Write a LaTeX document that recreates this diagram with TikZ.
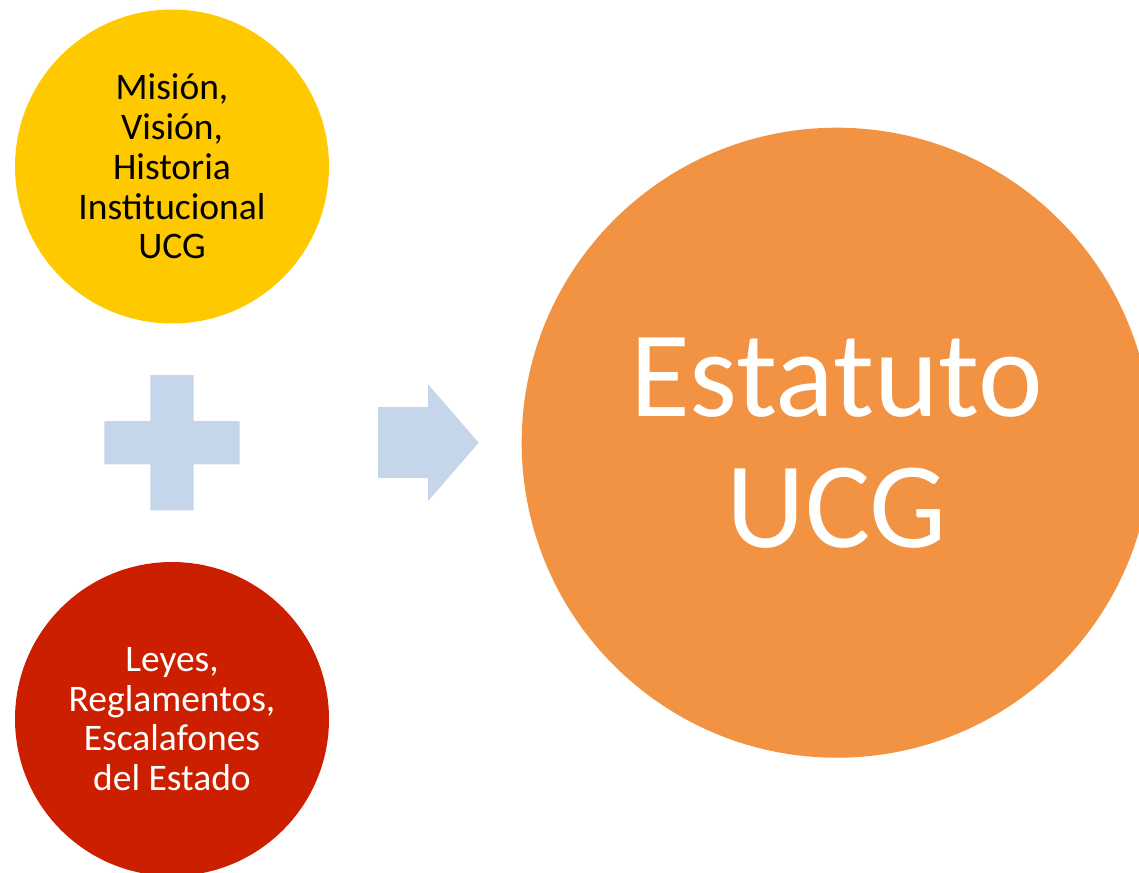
\documentclass[tikz,border=0pt]{standalone}
\usepackage{fontspec}
\setmainfont{Carlito}
\usepackage{tikz}
\usetikzlibrary{shapes.geometric, positioning, calc}
\definecolor{amarillo}{HTML}{FFC900}
\definecolor{rojo}{HTML}{CC1F00}
\definecolor{naranja}{HTML}{F19342}
\definecolor{celeste}{HTML}{C5D5EA}
\tikzstyle{circulo} = [circle, minimum size=314pt, inner sep=0pt, text centered, align=center, font=\fontsize{37.5}{39.75}\selectfont]
\tikzstyle{grande} = [circle, minimum size=630pt, inner sep=0pt, text centered, align=center, text=white, fill=naranja, font=\fontsize{122.5}{131}\selectfont]
\tikzstyle{simbolo} = [fill=celeste, draw=none]

\begin{document}
\begin{tikzpicture}[x=1pt, y=-1pt]
			
			\clip (0,0) rectangle (1139,872);
			
			\node (mision) [circulo, fill=amarillo] at (172,166.5) {Misión, \\ Visión, \\ Historia \\ Institucional \\ UCG};
			
			\node (leyes) [circulo, fill=rojo, text=white] at (172,719) {Leyes, \\ Reglamentos, \\ Escalafones \\ del Estado};
			
			\node (estatuto) [grande] at (836.7,442.7) {Estatuto \\ UCG};
			
			\coordinate (mas) at ($(mision)!0.5!(leyes)$);
			
			\fill [simbolo] ($(mas)+(-21.7,-67.7)$) -- ++(43.4,0) -- ++(0,46) -- ++(46,0) -- ++(0,43.4) -- ++(-46,0) -- ++(0,46) -- ++(-43.4,0) -- ++(0,-46) -- ++(-46,0) -- ++(0,-43.4) -- ++(46,0) -- cycle;
			
			\coordinate (flecha) at (estatuto.west -| 478.7,0);
			\fill [simbolo] (flecha) -- ++(-50.7,-58.5) -- ++(0,23) -- ++(-50,0) -- ++(0,71) -- ++(50,0) -- ++(0,23) -- cycle;
			
\end{tikzpicture}
\end{document}
